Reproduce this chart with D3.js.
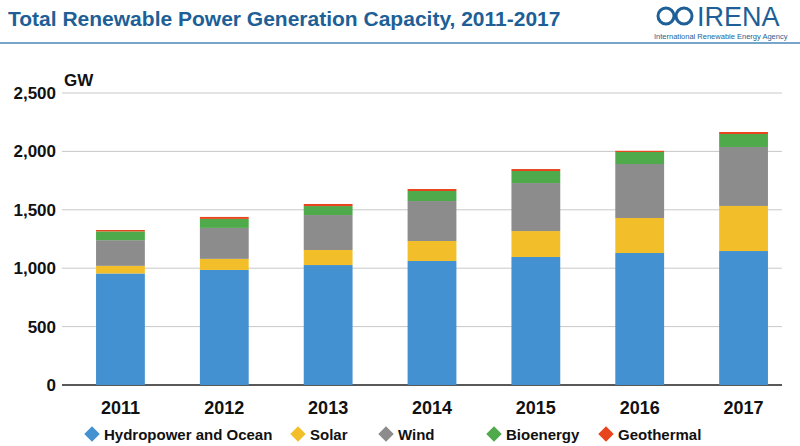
<!DOCTYPE html><html><head><meta charset="utf-8"><script src="https://cdn.jsdelivr.net/npm/d3@7"></script>
<style>body{margin:0;background:#fff;font-family:Arial,"Liberation Sans",sans-serif}</style></head><body><svg id="c" width="800" height="446"></svg>
<script>
const years=["2011","2012","2013","2014","2015","2016","2017"];
const seriesNames=["Hydropower and Ocean","Solar","Wind","Bioenergy","Geothermal"];
const hydro=[955,985,1027,1062,1096,1130,1147];
const solar=[65,95,129,171,222,300,386];
const wind=[220,265,299,342,411,462,505];
const bio=[75,77,77,86,103,103,111];
const geo=[12,17,18,17,17,10,17];
const yTicks=[0,500,1000,1500,2000,2500];
const yTickLabels=["0","500","1,000","1,500","2,000","2,500"];
const colors=["#4391d0","#f2bf2b","#8c8c8c","#4eaa4b","#e8451e"];
const svg=d3.select("#c");
svg.append("text").attr("x",8).attr("y",26).text("Total Renewable Power Generation Capacity, 2011-2017")
 .attr("fill","#1d5f96").attr("font-weight","bold").attr("font-size",21);
svg.append("line").attr("x1",0).attr("x2",800).attr("y1",43).attr("y2",43).attr("stroke","#4b87b8").attr("stroke-width",1.5);
const lg=svg.append("g");
lg.append("circle").attr("cx",666).attr("cy",16).attr("r",8).attr("fill","none").attr("stroke","#1d5f96").attr("stroke-width",3);
lg.append("circle").attr("cx",684).attr("cy",16).attr("r",8).attr("fill","none").attr("stroke","#1d5f96").attr("stroke-width",3);
lg.append("text").attr("x",697).attr("y",26).text("IRENA").attr("fill","#1d5f96").attr("font-size",27);
lg.append("text").attr("x",654).attr("y",39).text("International Renewable Energy Agency").attr("fill","#1d5f96").attr("font-size",7.5);
const y=d3.scaleLinear().domain([0,2500]).range([385,93]);
const x=d3.scaleBand().domain(years).range([68,796]).paddingInner(0.53).paddingOuter(0.27);
svg.append("g").selectAll("line").data(yTicks).join("line").attr("x1",62).attr("x2",782)
 .attr("y1",d=>y(d)).attr("y2",d=>y(d)).attr("stroke",d=>d===0?"#222":"#c8c8c8").attr("stroke-width",d=>d===0?1.5:1);
svg.append("g").selectAll("text").data(yTicks).join("text").attr("x",56).attr("y",d=>y(d)+6).attr("text-anchor","end")
 .attr("font-size",17).attr("font-weight","bold").attr("fill","#111").text((d,i)=>yTickLabels[i]);
svg.append("text").attr("x",64).attr("y",86).text("GW").attr("font-size",17).attr("font-weight","bold").attr("fill","#111");
const data=years.map((yr,i)=>({year:yr,s0:hydro[i],s1:solar[i],s2:wind[i],s3:bio[i],s4:geo[i]}));
const stack=d3.stack().keys(["s0","s1","s2","s3","s4"])(data);
svg.append("g").selectAll("g").data(stack).join("g").attr("fill",(d,i)=>colors[i])
 .selectAll("rect").data(d=>d).join("rect").attr("x",d=>x(d.data.year)).attr("width",x.bandwidth())
 .attr("y",d=>y(d[1])).attr("height",d=>y(d[0])-y(d[1]));
svg.append("g").selectAll("text").data(years).join("text").attr("x",d=>x(d)+x.bandwidth()/2).attr("y",414)
 .attr("text-anchor","middle").attr("font-size",18).attr("font-weight","bold").attr("fill","#111").text(d=>d);
const legX=[92,298,386,494,606];
const lgd=svg.append("g").selectAll("g").data(seriesNames).join("g").attr("transform",(d,i)=>`translate(${legX[i]},434)`);
lgd.append("rect").attr("x",-5.5).attr("y",-5.5).attr("width",11).attr("height",11).attr("transform","rotate(45)").attr("fill",(d,i)=>colors[i]);
lgd.append("text").attr("x",12).attr("y",6).attr("font-size",15).attr("font-weight","bold").attr("fill","#111").text(d=>d);
</script></body></html>
